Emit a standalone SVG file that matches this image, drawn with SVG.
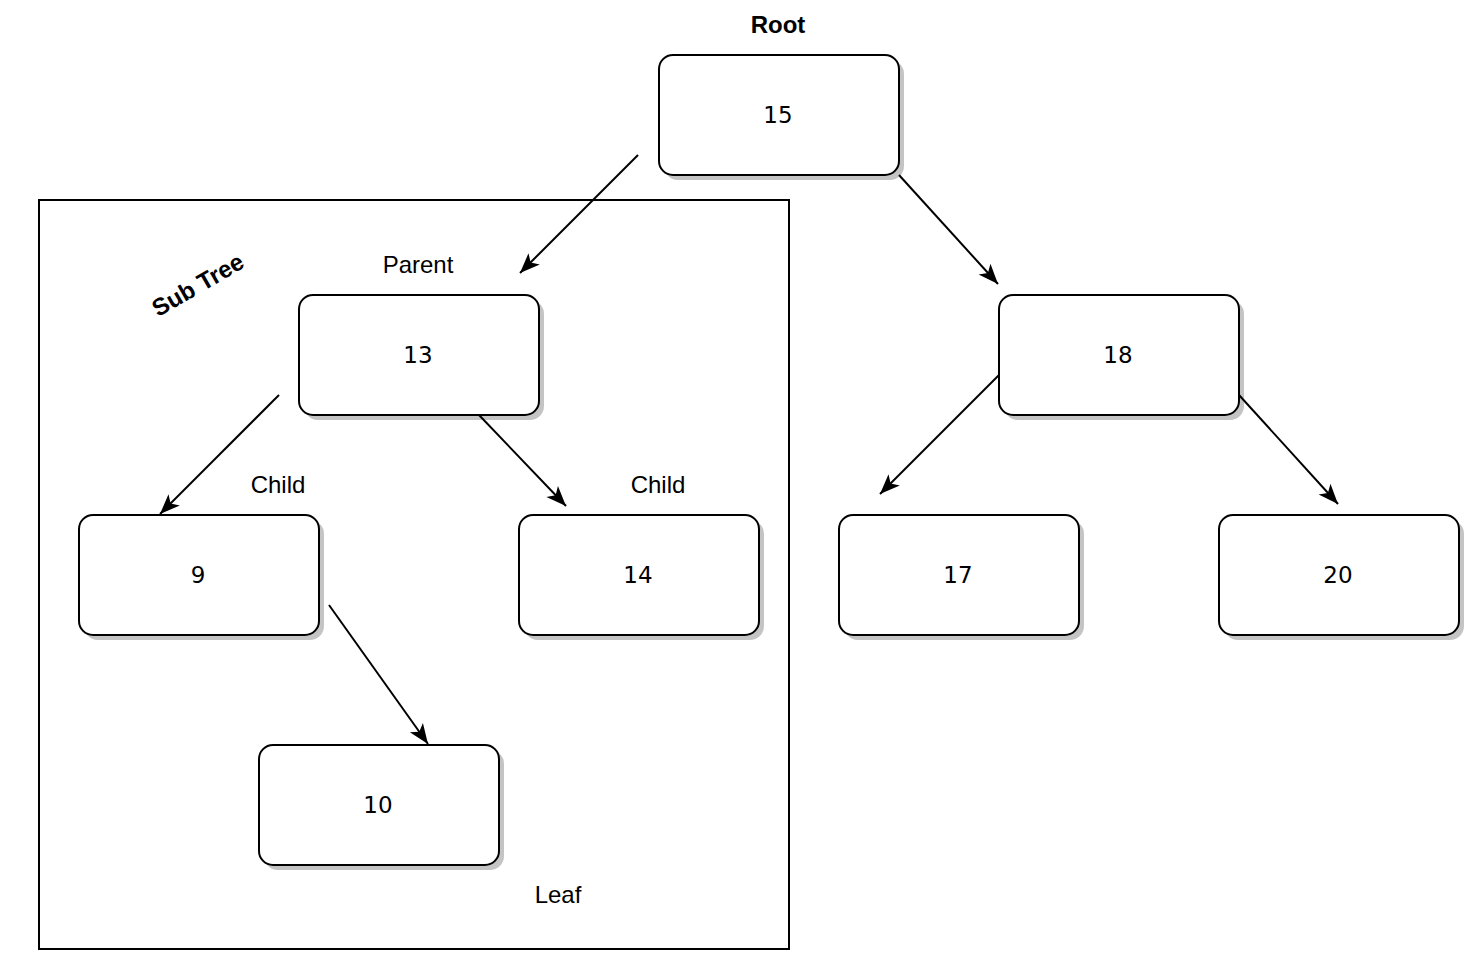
<svg xmlns="http://www.w3.org/2000/svg" width="1484" height="974" viewBox="0 0 1484 974">
<style>
.box{fill:#fff;stroke:#000;stroke-width:2}
.shadow{fill:#c4c4c4;stroke:none}
.num{font-family:"DejaVu Sans",sans-serif;font-size:23px;fill:#000;text-anchor:middle}
.lbl{font-family:"Liberation Sans",Arial,sans-serif;font-size:24px;fill:#000;text-anchor:middle}
.bold{font-weight:bold}
.edge{stroke:#000;stroke-width:2;fill:none}
</style>
<defs>
<marker id="arrow" markerUnits="userSpaceOnUse" markerWidth="24" markerHeight="20" viewBox="-22 -10 24 20" refX="0" refY="0" orient="auto">
<path d="M0,0 L-20,-8 L-15,0 L-20,8 Z" fill="#000"/>
</marker>
</defs>
<rect x="0" y="0" width="1484" height="974" fill="#fff"/>
<g id="subtree">
<rect x="39" y="200" width="750" height="749" fill="none" stroke="#000" stroke-width="2"/>
<text class="lbl bold" transform="translate(202,292) rotate(-30)">Sub Tree</text>
</g>
<g id="node15">
<rect class="shadow" x="664" y="60" width="240" height="120" rx="14"/>
<rect class="box" x="659" y="55" width="240" height="120" rx="14"/>
<text class="num" x="778" y="123">15</text>
</g>
<g id="node13">
<rect class="shadow" x="304" y="300" width="240" height="120" rx="14"/>
<rect class="box" x="299" y="295" width="240" height="120" rx="14"/>
<text class="num" x="418" y="363">13</text>
</g>
<g id="node18">
<rect class="shadow" x="1004" y="300" width="240" height="120" rx="14"/>
<rect class="box" x="999" y="295" width="240" height="120" rx="14"/>
<text class="num" x="1118" y="363">18</text>
</g>
<g id="node9">
<rect class="shadow" x="84" y="520" width="240" height="120" rx="14"/>
<rect class="box" x="79" y="515" width="240" height="120" rx="14"/>
<text class="num" x="198" y="583">9</text>
</g>
<g id="node14">
<rect class="shadow" x="524" y="520" width="240" height="120" rx="14"/>
<rect class="box" x="519" y="515" width="240" height="120" rx="14"/>
<text class="num" x="638" y="583">14</text>
</g>
<g id="node17">
<rect class="shadow" x="844" y="520" width="240" height="120" rx="14"/>
<rect class="box" x="839" y="515" width="240" height="120" rx="14"/>
<text class="num" x="958" y="583">17</text>
</g>
<g id="node20">
<rect class="shadow" x="1224" y="520" width="240" height="120" rx="14"/>
<rect class="box" x="1219" y="515" width="240" height="120" rx="14"/>
<text class="num" x="1338" y="583">20</text>
</g>
<g id="node10">
<rect class="shadow" x="264" y="750" width="240" height="120" rx="14"/>
<rect class="box" x="259" y="745" width="240" height="120" rx="14"/>
<text class="num" x="378" y="813">10</text>
</g>
<g id="connectors">
<line class="edge" x1="638" y1="155" x2="520" y2="273" marker-end="url(#arrow)"/>
<line class="edge" x1="899" y1="175" x2="998" y2="284" marker-end="url(#arrow)"/>
<line class="edge" x1="279" y1="395" x2="160" y2="514" marker-end="url(#arrow)"/>
<line class="edge" x1="479" y1="415" x2="566" y2="506" marker-end="url(#arrow)"/>
<line class="edge" x1="999" y1="375" x2="880" y2="494" marker-end="url(#arrow)"/>
<line class="edge" x1="1239" y1="395" x2="1338" y2="504" marker-end="url(#arrow)"/>
<line class="edge" x1="329" y1="605" x2="428" y2="744" marker-end="url(#arrow)"/>
</g>
<g id="labels">
<text class="lbl bold" x="778" y="33">Root</text>
<text class="lbl" x="418" y="273">Parent</text>
<text class="lbl" x="278" y="493">Child</text>
<text class="lbl" x="658" y="493">Child</text>
<text class="lbl" x="558" y="903">Leaf</text>
</g>
</svg>
